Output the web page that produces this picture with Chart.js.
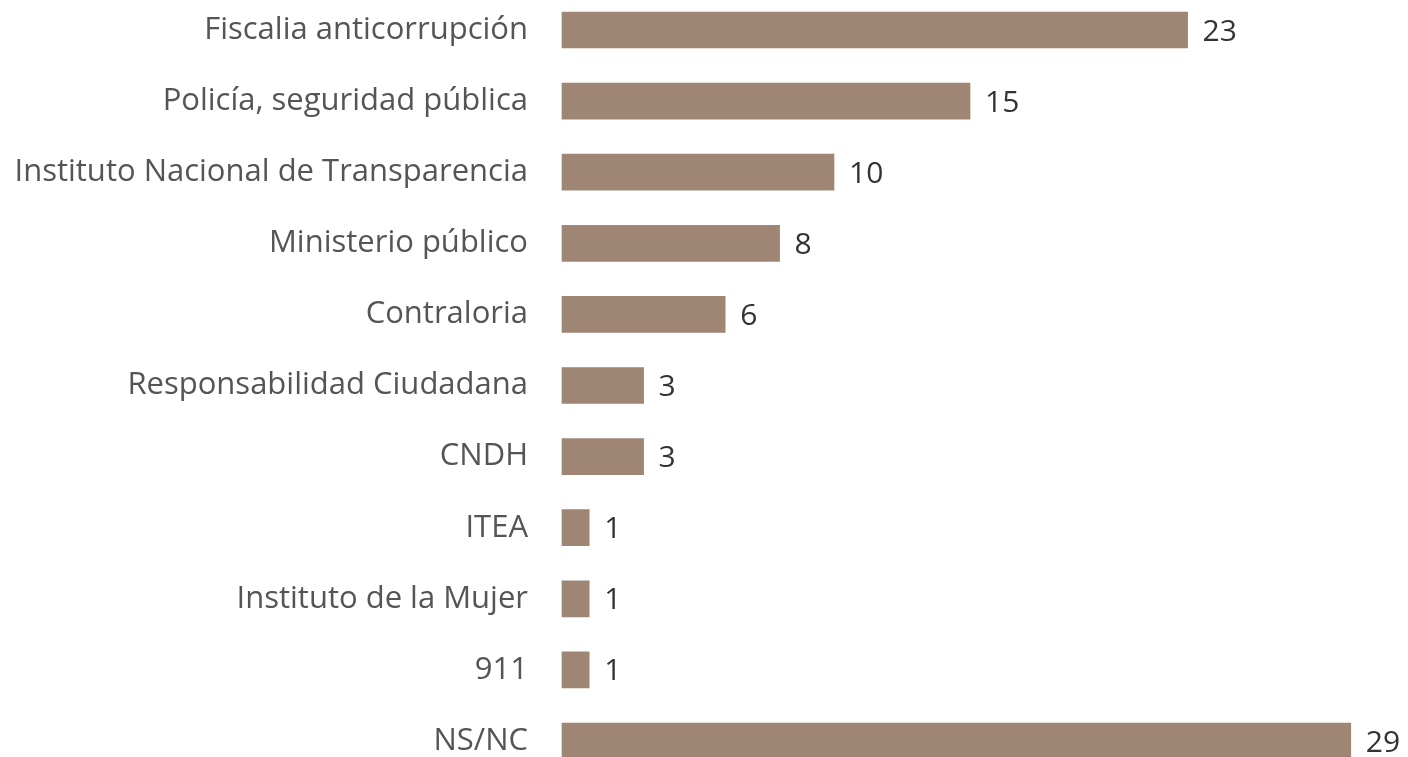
<!DOCTYPE html>
<html>
<head>
<meta charset="utf-8">
<script src="https://cdn.jsdelivr.net/npm/chart.js@4"></script>
<style>
  html, body { margin: 0; padding: 0; background: #fff; }
</style>
</head>
<body>
<canvas id="chart" width="1408" height="757"></canvas>
<script>
const categories = [
  'Fiscalia anticorrupción',
  'Policía, seguridad pública',
  'Instituto Nacional de Transparencia',
  'Ministerio público',
  'Contraloria',
  'Responsabilidad Ciudadana',
  'CNDH',
  'ITEA',
  'Instituto de la Mujer',
  '911',
  'NS/NC'
];
const values = [23, 15, 10, 8, 6, 3, 3, 1, 1, 1, 29];

const barColor = '#9e8574';
const fontFamily = '"Open Sans", Lato, sans-serif';

// draws the number at the end of each bar
const valueLabels = {
  id: 'valueLabels',
  afterDatasetsDraw(chart) {
    const ctx = chart.ctx;
    const meta = chart.getDatasetMeta(0);
    ctx.save();
    ctx.font = '30px ' + fontFamily;
    ctx.fillStyle = '#333333';
    ctx.textAlign = 'left';
    ctx.textBaseline = 'middle';
    meta.data.forEach((bar, i) => {
      ctx.fillText(String(values[i]), bar.x + 15, bar.y + 2);
    });
    ctx.restore();
  }
};

new Chart(document.getElementById('chart'), {
  type: 'bar',
  data: {
    labels: categories,
    datasets: [{
      data: values,
      backgroundColor: barColor,
      barThickness: 36,
      clip: false
    }]
  },
  options: {
    indexAxis: 'y',
    responsive: false,
    animation: false,
    layout: { padding: { top: 30, bottom: 16, left: 0, right: 30 } },
    plugins: { legend: { display: false }, tooltip: { enabled: false } },
    scales: {
      x: {
        min: 0,
        max: 30,
        display: false
      },
      y: {
        offset: false,
        grid: { display: false, drawTicks: false },
        border: { display: false },
        ticks: {
          padding: 34,
          color: '#555555',
          font: { family: fontFamily, size: 31 }
        },
        afterFit(scale) {
          scale.width = 562;
          scale.paddingTop = 0;
          scale.paddingBottom = 0;
        }
      }
    }
  },
  plugins: [valueLabels]
});
</script>
</body>
</html>
